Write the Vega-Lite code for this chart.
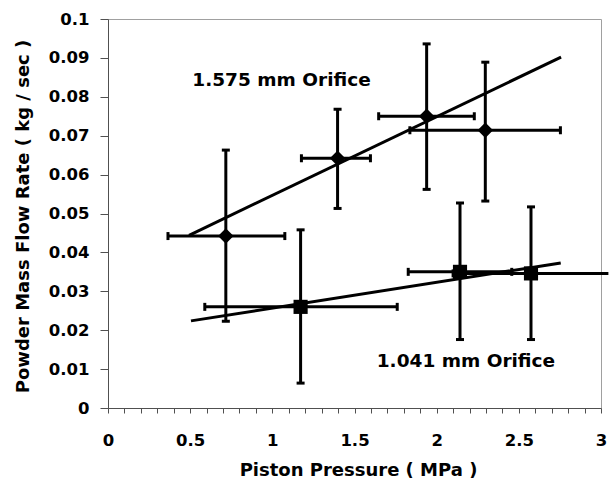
{
  "$schema": "https://vega.github.io/schema/vega-lite/v6.json",
  "width": 493,
  "height": 389,
  "autosize": {"type": "none"},
  "padding": {"left": 108, "top": 19, "right": 11, "bottom": 74},
  "background": "white",
  "config": {
    "font": "DejaVu Sans",
    "view": {"stroke": "#a0a0a0", "strokeWidth": 1},
    "axis": {
      "grid": false,
      "labelFont": "DejaVu Sans",
      "labelFontWeight": "bold",
      "labelFontSize": 16.5,
      "labelColor": "black",
      "titleFont": "DejaVu Sans",
      "titleFontWeight": "bold",
      "titleFontSize": 18,
      "titleColor": "black",
      "domainColor": "#505050",
      "tickColor": "#505050",
      "domainWidth": 1,
      "tickWidth": 1
    }
  },
  "datasets": {
    "points": [
      {"series": "1.575", "x": 0.717, "y": 0.0442, "xlo": 0.365, "xhi": 1.076, "ylo": 0.0223, "yhi": 0.0663},
      {"series": "1.575", "x": 1.397, "y": 0.0642, "xlo": 1.177, "xhi": 1.597, "ylo": 0.0513, "yhi": 0.0768},
      {"series": "1.575", "x": 1.939, "y": 0.0750, "xlo": 1.647, "xhi": 2.229, "ylo": 0.0562, "yhi": 0.0936},
      {"series": "1.575", "x": 2.296, "y": 0.0714, "xlo": 1.837, "xhi": 2.753, "ylo": 0.0532, "yhi": 0.0889},
      {"series": "1.041", "x": 1.172, "y": 0.0260, "xlo": 0.589, "xhi": 1.760, "ylo": 0.0064, "yhi": 0.0458},
      {"series": "1.041", "x": 2.142, "y": 0.0350, "xlo": 1.827, "xhi": 2.457, "ylo": 0.0176, "yhi": 0.0527},
      {"series": "1.041", "x": 2.574, "y": 0.0346, "xlo": 2.100, "xhi": 3.045, "ylo": 0.0176, "yhi": 0.0517}
    ],
    "trend": [
      {"series": "1.575", "x": 0.493, "y": 0.0444},
      {"series": "1.575", "x": 2.757, "y": 0.0902},
      {"series": "1.041", "x": 0.505, "y": 0.0224},
      {"series": "1.041", "x": 2.755, "y": 0.0373}
    ],
    "labels": [
      {"text": "1.575 mm Orifice", "x": 1.056, "y": 0.0843},
      {"text": "1.041 mm Orifice", "x": 2.178, "y": 0.0121}
    ]
  },
  "layer": [
    {
      "data": {"name": "trend"},
      "mark": {"type": "line", "color": "black", "strokeWidth": 3},
      "encoding": {
        "x": {
          "field": "x", "type": "quantitative",
          "scale": {"domain": [0, 3], "nice": false, "zero": false},
          "axis": {
            "title": "Piston Pressure ( MPa )",
            "tickCount": 30,
            "labelExpr": "abs(datum.value * 2 - round(datum.value * 2)) < 0.001 ? format(datum.value, '~g') : ''",
            "tickSize": 5,
            "labelPadding": 19.5,
            "labelFlush": false,
            "labelOverlap": false,
            "titleX": 250,
            "titleY": 62,
            "titleBaseline": "middle"
          }
        },
        "y": {
          "field": "y", "type": "quantitative",
          "scale": {"domain": [0, 0.1], "nice": false, "zero": false},
          "axis": {
            "title": "Powder Mass Flow Rate ( kg / sec )",
            "tickCount": 10,
            "labelExpr": "format(datum.value, '~g')",
            "tickSize": 8,
            "labelPadding": 11,
            "labelOverlap": false,
            "titleX": -85,
            "titleY": 197,
            "titleBaseline": "middle"
          }
        },
        "detail": {"field": "series"}
      }
    },
    {
      "data": {"name": "points"},
      "mark": {"type": "rule", "color": "black", "strokeWidth": 3},
      "encoding": {
        "x": {"field": "x", "type": "quantitative"},
        "y": {"field": "ylo", "type": "quantitative"},
        "y2": {"field": "yhi"}
      }
    },
    {
      "data": {"name": "points"},
      "mark": {"type": "rule", "color": "black", "strokeWidth": 3},
      "encoding": {
        "y": {"field": "y", "type": "quantitative"},
        "x": {"field": "xlo", "type": "quantitative"},
        "x2": {"field": "xhi"}
      }
    },
    {
      "data": {"name": "points"},
      "mark": {"type": "tick", "orient": "horizontal", "color": "black", "opacity": 1, "size": 8, "thickness": 3},
      "encoding": {
        "x": {"field": "x", "type": "quantitative"},
        "y": {"field": "yhi", "type": "quantitative"}
      }
    },
    {
      "data": {"name": "points"},
      "mark": {"type": "tick", "orient": "horizontal", "color": "black", "opacity": 1, "size": 8, "thickness": 3},
      "encoding": {
        "x": {"field": "x", "type": "quantitative"},
        "y": {"field": "ylo", "type": "quantitative"}
      }
    },
    {
      "data": {"name": "points"},
      "mark": {"type": "tick", "orient": "vertical", "color": "black", "opacity": 1, "size": 8, "thickness": 3},
      "encoding": {
        "x": {"field": "xlo", "type": "quantitative"},
        "y": {"field": "y", "type": "quantitative"}
      }
    },
    {
      "data": {"name": "points"},
      "transform": [{"filter": "datum.xhi <= 3"}],
      "mark": {"type": "tick", "orient": "vertical", "color": "black", "opacity": 1, "size": 8, "thickness": 3},
      "encoding": {
        "x": {"field": "xhi", "type": "quantitative"},
        "y": {"field": "y", "type": "quantitative"}
      }
    },
    {
      "data": {"name": "points"},
      "mark": {"type": "point", "filled": true, "opacity": 1, "color": "black", "strokeWidth": 0},
      "encoding": {
        "x": {"field": "x", "type": "quantitative"},
        "y": {"field": "y", "type": "quantitative"},
        "shape": {"field": "series", "type": "nominal", "scale": {"domain": ["1.575", "1.041"], "range": ["diamond", "square"]}, "legend": null},
        "size": {"field": "series", "type": "nominal", "scale": {"domain": ["1.575", "1.041"], "range": [240, 200]}, "legend": null}
      }
    },
    {
      "data": {"name": "labels"},
      "mark": {"type": "text", "font": "DejaVu Sans", "fontWeight": "bold", "fontSize": 18.5, "color": "black", "align": "center", "baseline": "middle"},
      "encoding": {
        "x": {"field": "x", "type": "quantitative"},
        "y": {"field": "y", "type": "quantitative"},
        "text": {"field": "text"}
      }
    }
  ]
}
